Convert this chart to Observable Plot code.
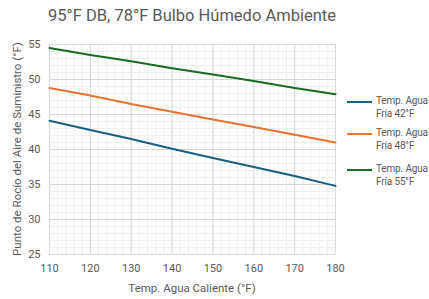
<!DOCTYPE html>
<html><head><meta charset="utf-8">
<script src="https://cdn.jsdelivr.net/npm/d3@7"></script>
<script src="https://cdn.jsdelivr.net/npm/@observablehq/plot@0.6"></script>
<style>
body{margin:0;background:#fff;font-family:Roboto,sans-serif;}
#wrap{position:relative;width:429px;height:299px;overflow:hidden;}
#title{position:absolute;left:0;width:384px;top:6px;text-align:center;font-size:16.5px;color:#595959;white-space:nowrap;}
#chart{position:absolute;left:0;top:32px;}
#ylab{position:absolute;left:17px;top:149px;transform:translate(-50%,-50%) rotate(-90deg);font-size:11.5px;color:#595959;white-space:nowrap;}
#xlab{position:absolute;left:192px;top:288px;transform:translate(-50%,-50%);font-size:11.5px;color:#595959;white-space:nowrap;}
.li{position:absolute;left:347px;display:flex;align-items:flex-start;white-space:nowrap;}
.sw{width:25px;height:2px;margin-top:6px;flex:none;}
.lt{margin-left:4px;font-size:10px;letter-spacing:-0.15px;line-height:12.5px;color:#595959;white-space:nowrap;}
</style></head><body>
<div id="wrap">
<div id="title">95°F DB, 78°F Bulbo Húmedo Ambiente</div>
<div id="chart"></div>
<div id="ylab">Punto de Rocío del Aire de Suministro (°F)</div>
<div id="xlab">Temp. Agua Caliente (°F)</div>
<div id="legend"></div>
</div>
<script>
const hotWater = [110, 120, 130, 140, 150, 160, 170, 180];
const seriesNames = ["Temp. Agua Fría 42°F", "Temp. Agua Fría 48°F", "Temp. Agua Fría 55°F"];
const legendLines = [["Temp. Agua", "Fría 42°F"], ["Temp. Agua", "Fría 48°F"], ["Temp. Agua", "Fría 55°F"]];
const dew42 = [44.1, 42.8, 41.5, 40.1, 38.8, 37.5, 36.2, 34.8];
const dew48 = [48.8, 47.7, 46.5, 45.4, 44.3, 43.2, 42.1, 41.0];
const dew55 = [54.5, 53.5, 52.6, 51.6, 50.7, 49.8, 48.8, 47.9];
const colors = ["#156082", "#E97132", "#196B24"];
const xTicks = [110, 120, 130, 140, 150, 160, 170, 180];
const yTicks = [25, 30, 35, 40, 45, 50, 55];
const xMinor = d3.range(110, 181, 2);
const yMinor = d3.range(25, 56, 1);
const legendTop = [95, 127, 163];

const allSeries = [dew42, dew48, dew55];
const data = [];
allSeries.forEach((vals, i) => vals.forEach((v, j) => data.push({series: seriesNames[i], x: hotWater[j], y: v})));

const chart = Plot.plot({
  width: 429, height: 267,
  marginTop: 12, marginBottom: 45, marginLeft: 49, marginRight: 94,
  style: {fontFamily: "Roboto, sans-serif", color: "#595959", background: "transparent"},
  x: {domain: [110, 180], label: null},
  y: {domain: [25, 55], label: null},
  color: {domain: seriesNames, range: colors},
  marks: [
    Plot.gridX(xMinor, {stroke: "#efefef", strokeOpacity: 1}),
    Plot.gridY(yMinor, {stroke: "#efefef", strokeOpacity: 1}),
    Plot.gridX(xTicks, {stroke: "#d9d9d9", strokeOpacity: 1}),
    Plot.gridY(yTicks, {stroke: "#d9d9d9", strokeOpacity: 1}),
    Plot.axisX(xTicks, {tickSize: 0, tickPadding: 10, fontSize: 11, label: null, fill: "#595959"}),
    Plot.axisY(yTicks, {tickSize: 0, tickPadding: 9, fontSize: 11, label: null, fill: "#595959"}),
    Plot.line(data, {x: "x", y: "y", z: "series", stroke: "series", strokeWidth: 2})
  ]
});
document.getElementById("chart").appendChild(chart);

const leg = document.getElementById("legend");
seriesNames.forEach((s, i) => {
  const d = document.createElement("div");
  d.className = "li";
  d.style.top = legendTop[i] + "px";
  d.innerHTML = `<div class="sw" style="background:${colors[i]}"></div><div class="lt">${legendLines[i][0]}<br>${legendLines[i][1]}</div>`;
  leg.appendChild(d);
});
</script>
</body></html>
